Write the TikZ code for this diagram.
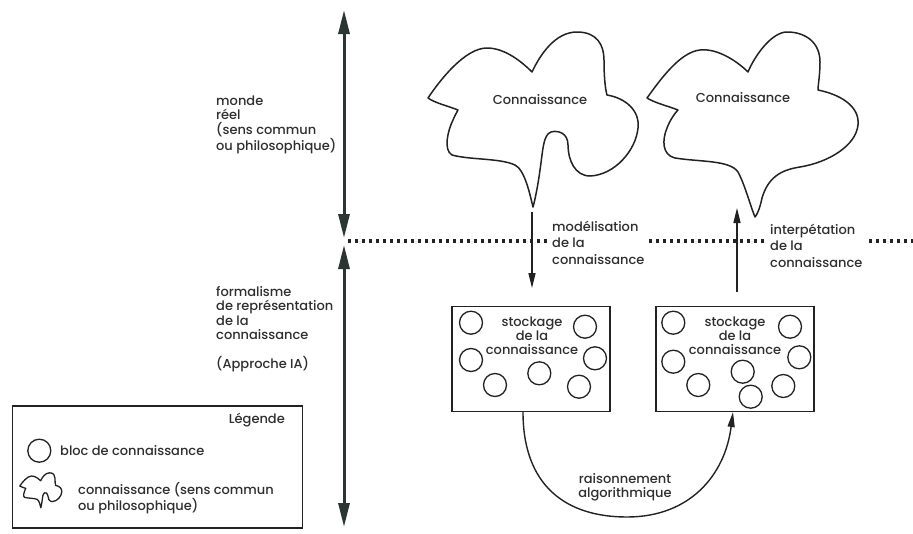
\documentclass[tikz,border=0pt]{standalone}
\usepackage{fontspec}
\setmainfont{Poppins}[UprightFont={* Medium}]
\usetikzlibrary{arrows.meta}
\definecolor{ink}{HTML}{222222}
\definecolor{txt}{HTML}{2E2E2E}
\definecolor{axis}{HTML}{2B3531}
\newcommand\cloudApath{(428,98) .. controls (440,80) and (465,48) .. (487,48)
  .. controls (505,48) and (522,62) .. (532,72)
  .. controls (540,55) and (555,32) .. (577,32)
  .. controls (597,32) and (604,45) .. (604,60)
  .. controls (604,75) and (605,88) .. (607,95)
  .. controls (625,98) and (640,110) .. (638,128)
  .. controls (636,150) and (615,175) .. (590,176)
  .. controls (575,176) and (568,160) .. (568,145)
  .. controls (568,133) and (558,130) .. (551,132)
  .. controls (543,135) and (543,150) .. (540,170)
  .. controls (538,185) and (535,200) .. (533,207)
  .. controls (530,195) and (525,170) .. (515,165)
  .. controls (500,158) and (470,160) .. (452,155)
  .. controls (443,150) and (448,130) .. (453,120)
  .. controls (455,115) and (457,112) .. (458,110)
  .. controls (448,106) and (435,103) .. (428,98) -- cycle}
\begin{document}
\begin{tikzpicture}[x=1pt,y=-1pt,
  lbl/.style={font=\fontsize{13}{14.5}\selectfont, text=txt, align=left, inner sep=0pt},
  clbl/.style={font=\fontsize{13}{14}\selectfont, text=txt, align=center, inner sep=0pt},
  arlbl/.style={font=\fontsize{13}{16.3}\selectfont, text=txt, align=left, inner sep=0pt},
  axisarrow/.style={draw=axis, line width=3pt, {Triangle[length=24pt,width=11pt]}-{Triangle[length=24pt,width=11pt]}},
  flow/.style={draw=ink, line width=1.4pt, -{Triangle[length=15pt,width=7pt]}},
  sep/.style={draw=ink, line width=3.4pt, dash pattern=on 3.4pt off 3.6pt},
  storebox/.style={draw=ink, line width=1.3pt, minimum width=158pt, minimum height=105pt, inner sep=0pt},
  bloc/.style={draw=ink, line width=1.3pt, circle, minimum size=23pt, inner sep=0pt},
  cloudline/.style={draw=ink, line width=1.5pt, line join=round}]
\useasboundingbox (0,0) rectangle (913,533);

% axis
\coordinate (axtop) at (344,10);
\coordinate (axmid1) at (344,238);
\coordinate (axmid2) at (344,245);
\coordinate (axbot) at (344,527);
\draw[axisarrow] (axtop) -- (axmid1);
\draw[axisarrow] (axmid2) -- (axbot);

% side labels (base = last line)
\node[lbl, anchor=base west] (monde) at (216,150) {monde\\réel\\(sens commun\\ou philosophique)};
\node[lbl, anchor=base west] (formal) at (216,368) {formalisme\\de représentation\\de la\\connaissance\\[14pt](Approche IA)};

% clouds
\draw[cloudline] \cloudApath;
\node[clbl] (c1) at (540,100) {Connaissance};
\draw[cloudline] (647,98) .. controls (660,80) and (680,52) .. (700,50)
  .. controls (718,48) and (738,62) .. (748,72)
  .. controls (755,55) and (772,32) .. (787,32)
  .. controls (805,32) and (820,42) .. (820,62)
  .. controls (820,75) and (818,85) .. (818,90)
  .. controls (838,94) and (860,105) .. (858,125)
  .. controls (856,145) and (830,162) .. (800,167)
  .. controls (780,170) and (768,178) .. (762,198)
  .. controls (760,208) and (757,215) .. (755,217)
  .. controls (750,205) and (745,185) .. (738,172)
  .. controls (730,160) and (700,162) .. (675,158)
  .. controls (662,155) and (662,140) .. (667,128)
  .. controls (670,120) and (675,113) .. (678,110)
  .. controls (668,106) and (655,103) .. (647,98) -- cycle;
\node[clbl] (c2) at (743,98) {Connaissance};

% separator
\draw[sep] (348,241) -- (548,241);
\draw[sep] (649,241) -- (765,241);
\draw[sep] (869,241) -- (913,241);

% boxes
\node[storebox] (b1) at (531,359) {};
\node[storebox] (b2) at (735,359) {};
\node[clbl] (t1) at (532,336) {stockage\\de la\\connaissance};
\node[clbl] (t2) at (735,336) {stockage\\de la\\connaissance};

\foreach \n/\p in {a/{(471,322.7)}, b/{(585,326.7)}, c/{(471,360)}, d/{(595,358.3)},
                   e/{(495,385)}, f/{(539.3,373.3)}, g/{(579,386.7)}}
  \node[bloc] (k1\n) at \p {};
\foreach \n/\p in {a/{(673.3,322.7)}, b/{(790,326.7)}, c/{(673.3,361.7)}, d/{(799.3,357.3)},
                   e/{(698.3,385)}, f/{(742.7,371.7)}, g/{(750.7,396.7)}, h/{(783.3,386)}}
  \node[bloc] (k2\n) at \p {};

% vertical flows
\coordinate (tip1) at (532,212);
\coordinate (d1) at (532,288);
\draw[flow] (tip1) -- (d1);
\node[arlbl, anchor=base west] (mod) at (552,264) {modélisation\\de la\\connaissance};

\coordinate (u2) at (737,292);
\coordinate (tip2) at (737,208);
\draw[flow] (u2) -- (tip2);
\node[arlbl, anchor=base west] (interp) at (770,267) {interpétation\\de la\\connaissance};

% reasoning arc
\coordinate (rs) at (523,412);
\coordinate (re) at (733,412);
\draw[flow] (rs) .. controls (523,485) and (565,517) .. (627,517) .. controls (690,517) and (725,475) .. (re);
\node[clbl] (rais) at (625,487) {raisonnement\\algorithmique};

% legend
\node[draw=ink, line width=1.3pt, minimum width=290pt, minimum height=122pt, inner sep=0pt] (leg) at (157.7,467) {};
\node[lbl, anchor=east] (legt) at (285,420) {Légende};
\node[bloc] (legc) at (39.3,450.7) {};
\node[lbl, anchor=west] (legct) at (60,450.7) {bloc de connaissance};
\begin{scope}[shift={(41,490)}, scale=0.2, shift={(-534,-118)}]
  \draw[cloudline, line width=1.3pt] \cloudApath;
\end{scope}
\node[lbl, anchor=base west] (legkt) at (78,510) {connaissance (sens commun\\ou philosophique)};
\end{tikzpicture}
\end{document}
